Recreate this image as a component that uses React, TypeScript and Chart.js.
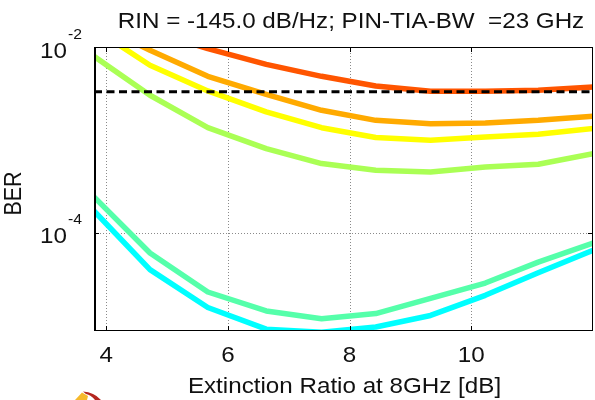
import React, { useEffect, useRef } from "react";
import { Chart, registerables } from "chart.js";

Chart.register(...registerables);

const ER = [3.8, 4.72, 5.67, 6.63, 7.54, 8.43, 9.33, 10.23, 11.1, 12];
const berCyan = [1.71e-4, 3.99e-5, 1.56e-5, 9.1e-6, 8.45e-6, 9.6e-6, 1.28e-5, 2.11e-5, 3.7e-5, 6.45e-5];
const berSeafoam = [2.42e-4, 6.03e-5, 2.29e-5, 1.43e-5, 1.18e-5, 1.34e-5, 1.95e-5, 2.86e-5, 4.8e-5, 7.7e-5];
const berLime = [7.94e-3, 3.02e-3, 1.35e-3, 8.03e-4, 5.54e-4, 4.69e-4, 4.5e-4, 5.1e-4, 5.45e-4, 7.1e-4];
const berYellow = [1.58e-2, 6.35e-3, 3.36e-3, 2.0e-3, 1.35e-3, 1.06e-3, 9.9e-4, 1.07e-3, 1.15e-3, 1.32e-3];
const berOrange = [1.83e-2, 9.2e-3, 4.83e-3, 3.09e-3, 2.08e-3, 1.62e-3, 1.49e-3, 1.52e-3, 1.62e-3, 1.79e-3];
const berRed = [2.3e-2, 1.5e-2, 9.6e-3, 6.5e-3, 4.83e-3, 3.8e-3, 3.33e-3, 3.33e-3, 3.42e-3, 3.71e-3];
const fecLimitX = [3.8, 12];
const fecLimitY = [3.3e-3, 3.3e-3];

const xTicks = [4, 6, 8, 10];
const yTicks = [1e-2, 1e-4];
const yTickExps = ["-2", "-4"];

const TITLE = "RIN = -145.0 dB/Hz; PIN-TIA-BW  =23 GHz";
const X_TITLE = "Extinction Ratio at 8GHz [dB]";
const Y_TITLE = "BER";

const FONT = "'Liberation Sans', Arial, sans-serif";
const SX = 1.125;

const toPts = (xs: number[], ys: number[]) => xs.map((x, i) => ({ x, y: ys[i] }));

function txt(ctx: any, s: string, x: number, y: number, align: string, size: number, sx = SX) {
  ctx.save();
  ctx.font = `${size}px ${FONT}`;
  ctx.textAlign = align;
  ctx.textBaseline = "alphabetic";
  ctx.translate(x, y);
  ctx.scale(sx, 1);
  ctx.fillText(s, 0, 0);
  ctx.restore();
}

const axesPlugin = {
  id: "matlabAxes",
  beforeDatasetsDraw(chart: any) {
    const { ctx, chartArea: a, scales } = chart;
    ctx.save();
    ctx.strokeStyle = "#8a8a8a";
    ctx.lineWidth = 1;
    ctx.setLineDash([1, 2]);
    xTicks.forEach((t) => {
      const px = Math.round(scales.x.getPixelForValue(t)) + 0.5;
      ctx.beginPath();
      ctx.moveTo(px, a.top);
      ctx.lineTo(px, a.bottom);
      ctx.stroke();
    });
    yTicks.forEach((t) => {
      const py = Math.round(scales.y.getPixelForValue(t)) + 0.5;
      if (py < a.top + 2) return;
      ctx.beginPath();
      ctx.moveTo(a.left, py);
      ctx.lineTo(a.right, py);
      ctx.stroke();
    });
    ctx.restore();
  },
  afterDatasetsDraw(chart: any) {
    const { ctx, chartArea: a, scales } = chart;
    ctx.save();
    ctx.setLineDash([]);
    ctx.strokeStyle = "#000";
    ctx.lineWidth = 1;
    ctx.strokeRect(a.left + 0.5, a.top + 0.5, a.right - a.left - 1, a.bottom - a.top - 1);
    ctx.lineWidth = 2;
    ctx.beginPath();
    ctx.moveTo(a.left + 1, a.top);
    ctx.lineTo(a.left + 1, a.bottom);
    ctx.stroke();
    ctx.lineWidth = 1;
    xTicks.forEach((t) => {
      const px = Math.round(scales.x.getPixelForValue(t)) + 0.5;
      ctx.beginPath();
      ctx.moveTo(px, a.bottom);
      ctx.lineTo(px, a.bottom - 5);
      ctx.moveTo(px, a.top);
      ctx.lineTo(px, a.top + 5);
      ctx.stroke();
    });
    yTicks.forEach((t) => {
      const py = Math.round(scales.y.getPixelForValue(t)) + 0.5;
      ctx.beginPath();
      ctx.moveTo(a.left, py);
      ctx.lineTo(a.left + 5, py);
      ctx.moveTo(a.right, py);
      ctx.lineTo(a.right - 5, py);
      ctx.stroke();
    });
    ctx.fillStyle = "#111";
    xTicks.forEach((t) => {
      const px = scales.x.getPixelForValue(t);
      txt(ctx, String(t), px, 362, "center", 21.5);
    });
    yTicks.forEach((t, i) => {
      const py = scales.y.getPixelForValue(t);
      txt(ctx, "10", 67, py + 10.5, "right", 21.5);
      txt(ctx, yTickExps[i], 68, py - 8.5, "left", 14);
    });
    txt(ctx, TITLE, 351, 28, "center", 21.5);
    txt(ctx, X_TITLE, (a.left + a.right) / 2 + 1, 393, "center", 21.5);
    ctx.save();
    ctx.font = `21.5px ${FONT}`;
    ctx.textAlign = "center";
    ctx.translate(20.5, 193.5);
    ctx.rotate(-Math.PI / 2);
    ctx.scale(1, SX);
    ctx.fillText(Y_TITLE, 0, 0);
    ctx.restore();
    // small logo fragment at the bottom-left
    ctx.fillStyle = "#F6B92B";
    ctx.beginPath();
    ctx.moveTo(75, 400);
    ctx.lineTo(82, 392.5);
    ctx.lineTo(88, 396);
    ctx.lineTo(87, 400);
    ctx.closePath();
    ctx.fill();
    ctx.fillStyle = "#B4261F";
    ctx.beginPath();
    ctx.moveTo(83, 391.5);
    ctx.quadraticCurveTo(94, 392, 101, 400);
    ctx.lineTo(95, 400);
    ctx.quadraticCurveTo(91, 395, 86, 394);
    ctx.closePath();
    ctx.fill();
    ctx.restore();
  },
};

export default function App() {
  const ref = useRef<HTMLCanvasElement | null>(null);
  useEffect(() => {
    document.body.style.margin = "0";
    const lw = 5.5;
    const mk = (data: number[], color: string, order: number) => ({
      data: toPts(ER, data),
      borderColor: color,
      backgroundColor: color,
      borderWidth: lw,
      pointRadius: 0,
      tension: 0,
      fill: false,
      clip: 0,
      borderJoinStyle: "round" as const,
      borderCapStyle: "butt" as const,
      order,
    });
    const chart = new Chart(ref.current as HTMLCanvasElement, {
      type: "line",
      data: {
        datasets: [
          {
            data: toPts(fecLimitX, fecLimitY),
            borderColor: "#000",
            borderWidth: 3,
            borderDash: [8, 4.5],
            pointRadius: 0,
            fill: false,
            clip: 0,
            order: 0,
          } as any,
          mk(berRed, "#FF5500", 1),
          mk(berOrange, "#FFAA00", 2),
          mk(berYellow, "#FFFF00", 3),
          mk(berLime, "#AAFF55", 4),
          mk(berSeafoam, "#55FFAA", 5),
          mk(berCyan, "#00FFFF", 6),
        ],
      },
      options: {
        animation: false,
        responsive: false,
        devicePixelRatio: 1,
        layout: { padding: { left: 94, top: 47, right: 2, bottom: 69 } },
        plugins: { legend: { display: false }, tooltip: { enabled: false }, title: { display: false } },
        scales: {
          x: { type: "linear", min: 3.8, max: 12, display: false },
          y: { type: "logarithmic", min: 8.7e-6, max: 1e-2, display: false },
        },
      },
      plugins: [axesPlugin],
    });
    return () => chart.destroy();
  }, []);
  return (
    <div style={{ position: "fixed", left: 0, top: 0, width: 595, height: 400, background: "#fff" }}>
      <canvas ref={ref} width={595} height={400} style={{ display: "block" }} />
    </div>
  );
}
